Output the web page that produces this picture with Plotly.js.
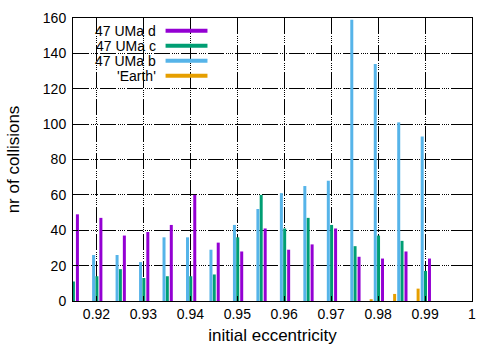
<!DOCTYPE html>
<html>
<head>
<meta charset="utf-8">
<script src="https://cdn.plot.ly/plotly-3.0.1.min.js"></script>
<style>
  html, body { margin: 0; padding: 0; background: #fff; }
  #chart { width: 500px; height: 350px; }
</style>
</head>
<body>
<div id="chart"></div>
<script>
// initial eccentricity bins
var ecc = [0.915, 0.92, 0.925, 0.93, 0.935, 0.94, 0.945, 0.95, 0.955, 0.96, 0.965, 0.97, 0.975, 0.98, 0.985, 0.99];

// collisions per planet
var umaD  = [49, 47, 37, 39, 43, 60, 33, 28, 41, 29, 32, 41, 25, 24, 28, 24];
var umaC  = [11, 14, 18, 13, 14, 14, 15, 36, 60, 41, 47, 43, 31, 37, 34, 17];
var umaB  = [null, 26, 26, 22, 36, 36, 29, 43, 52, 61, 65, 68, 159, 134, 101, 93];
var earth = [0, 0, 0, 0, 0, 0, 0, 0, 0, 0, 0, 0, 0, 1, 4, 7];

var names = ['47 UMa d', '47 UMa c', '47 UMa b', "'Earth'"];
var xTicks = [0.92, 0.93, 0.94, 0.95, 0.96, 0.97, 0.98, 0.99, 1];
var xTickText = ['0.92', '0.93', '0.94', '0.95', '0.96', '0.97', '0.98', '0.99', '1'];

var colors = ['#9400d3', '#009e73', '#56b4e9', '#e69f00'];
var offsets = [0.00062, -0.00023, -0.00093, -0.0018];
var series = [umaD, umaC, umaB, earth];

var data = [];
for (var i = 0; i < series.length; i++) {
  data.push({
    type: 'bar',
    x: ecc,
    y: series[i],
    name: names[i],
    width: 0.00064,
    offset: offsets[i],
    marker: {color: colors[i], line: {width: 0}},
    showlegend: false,
    hoverinfo: 'x+y+name'
  });
}

var gridDash = '16px,2px,1px,1px,1px,1px,1px,1px,1px,2px';

// legend drawn by hand: text on the left, line sample on the right
var annotations = [];
var shapes = [{
  type: 'rect', xref: 'paper', yref: 'paper',
  x0: 0, x1: 0.355, y0: 0.77, y1: 1,
  fillcolor: '#fff', line: {width: 0}, layer: 'between'
}];
for (var j = 0; j < names.length; j++) {
  var yy = 0.955 - j * 0.053;
  annotations.push({
    xref: 'paper', yref: 'paper', x: 0.212, y: yy,
    xanchor: 'right', yanchor: 'middle', showarrow: false,
    text: names[j], font: {family: 'Liberation Sans, Arial, sans-serif', size: 14, color: '#000'}
  });
  shapes.push({
    type: 'line', xref: 'paper', yref: 'paper',
    x0: 0.232, x1: 0.337, y0: yy, y1: yy,
    line: {color: colors[j], width: 4}
  });
}

var layout = {
  width: 500, height: 350,
  margin: {l: 73, r: 28, t: 18, b: 49},
  paper_bgcolor: '#fff', plot_bgcolor: '#fff',
  font: {family: 'Liberation Sans, Arial, sans-serif', size: 14, color: '#000'},
  barmode: 'overlay',
  showlegend: false,
  xaxis: {
    range: [0.915, 1.0],
    tickvals: xTicks, ticktext: xTickText,
    ticks: 'inside', ticklen: 5, tickcolor: '#000',
    showline: true, linecolor: '#000', linewidth: 1, mirror: 'ticks',
    showgrid: true, gridcolor: '#000', gridwidth: 1, griddash: gridDash,
    zeroline: false,
    title: {text: 'initial eccentricity', standoff: 8}
  },
  yaxis: {
    range: [0, 160],
    tickvals: [0, 20, 40, 60, 80, 100, 120, 140, 160],
    ticks: 'inside', ticklen: 5, tickcolor: '#000',
    showline: true, linecolor: '#000', linewidth: 1, mirror: 'ticks',
    showgrid: true, gridcolor: '#000', gridwidth: 1, griddash: gridDash,
    zeroline: false,
    ticklabelstandoff: 3,
    title: {text: 'nr of collisions', standoff: 18}
  },
  annotations: annotations,
  shapes: shapes
};

Plotly.newPlot('chart', data, layout, {displayModeBar: false, staticPlot: true});
</script>
</body>
</html>
